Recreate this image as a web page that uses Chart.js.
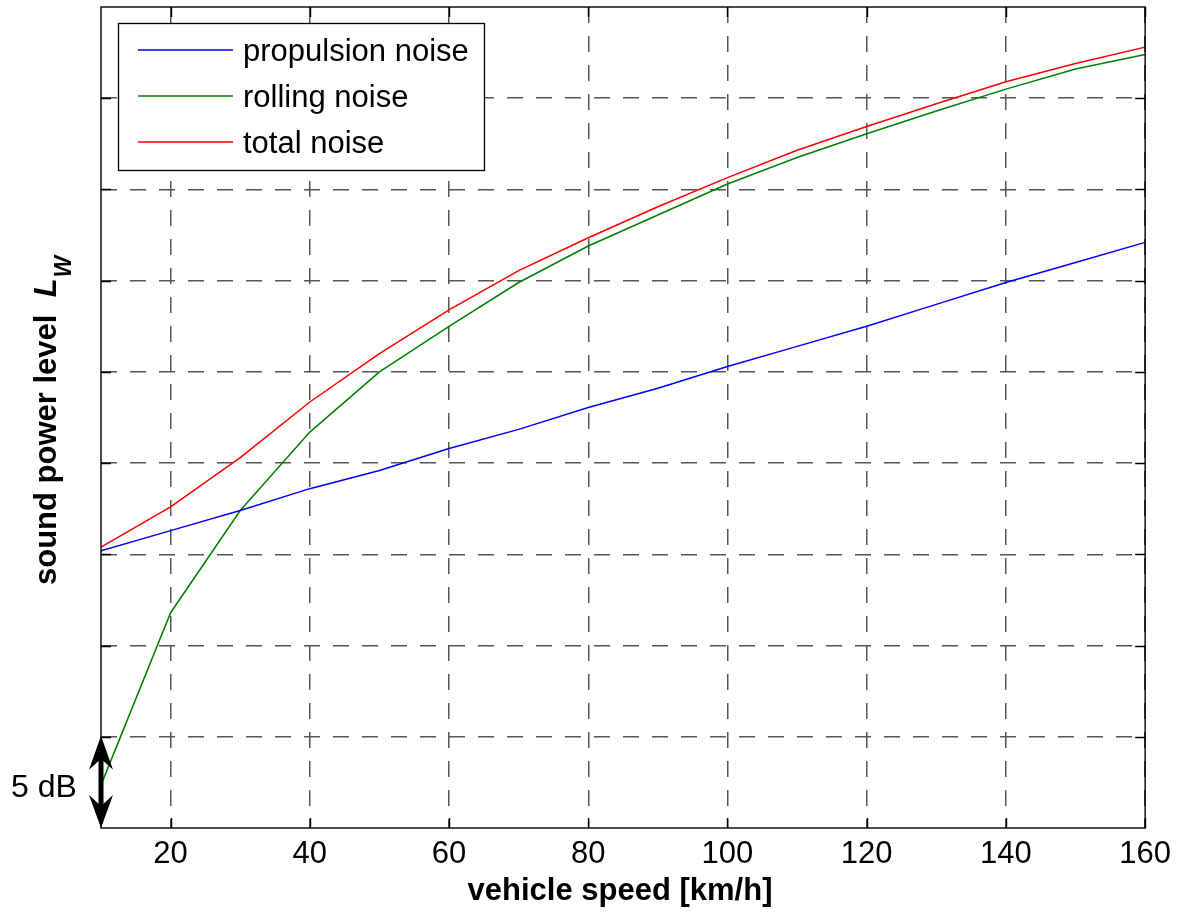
<!DOCTYPE html>
<html><head><meta charset="utf-8">
<script src="https://cdn.jsdelivr.net/npm/chart.js@4.4.0/dist/chart.umd.min.js"></script>
<style>html,body{margin:0;padding:0;background:#fff;}#wrap{width:1179px;height:913px;}</style>
</head><body><div id="wrap"><canvas id="c" width="1179" height="913"></canvas></div>
<script>
// ---- data ----
const speeds     = [10, 20, 30, 40, 50, 60, 70, 80, 90, 100, 110, 120, 130, 140, 150, 160];
const propulsion = [15.2, 16.3, 17.4, 18.6, 19.6, 20.8, 21.85, 23.05, 24.1, 25.3, 26.4, 27.5, 28.7, 29.9, 31.0, 32.1];
const rolling    = [2.35, 11.8, 17.4, 21.7, 25.0, 27.5, 29.9, 31.9, 33.6, 35.3, 36.75, 38.05, 39.3, 40.5, 41.6, 42.4];
const total      = [15.4, 17.6, 20.3, 23.35, 26.0, 28.4, 30.55, 32.35, 34.05, 35.65, 37.15, 38.45, 39.7, 40.9, 41.9, 42.8];
const xTicks = [20, 40, 60, 80, 100, 120, 140, 160];
const yGrid  = [5, 10, 15, 20, 25, 30, 35, 40];
const seriesNames  = ['propulsion noise', 'rolling noise', 'total noise'];
const seriesColors = ['#0000ff', '#008000', '#ff0000'];
const xTitle = 'vehicle speed [km/h]';
const yTitleMain = 'sound power level';
const yTitleSym = 'L';
const yTitleSub = 'W';
const scaleText = '5 dB';
const scaleStep = 5;

const FF = '"Liberation Sans", Arial, Helvetica, sans-serif';
const toXY = arr => arr.map((v, i) => ({x: speeds[i], y: v}));
const seriesData = [propulsion, rolling, total];

const overlay = {
  id: 'overlay',
  afterDraw(chart) {
    const ctx = chart.ctx, a = chart.chartArea;
    const xs = chart.scales.x, ys = chart.scales.y;
    ctx.save();
    // box
    ctx.strokeStyle = '#000'; ctx.lineWidth = 1.4; ctx.setLineDash([]);
    ctx.strokeRect(a.left, a.top, a.right - a.left, a.bottom - a.top);
    // inward ticks
    ctx.beginPath();
    xTicks.forEach(v => {
      const px = Math.round(xs.getPixelForValue(v)) + 0.5;
      ctx.moveTo(px, a.bottom); ctx.lineTo(px, a.bottom - 10);
      ctx.moveTo(px, a.top); ctx.lineTo(px, a.top + 10);
    });
    yGrid.forEach(v => {
      const py = Math.round(ys.getPixelForValue(v)) + 0.5;
      ctx.moveTo(a.left, py); ctx.lineTo(a.left + 10, py);
      ctx.moveTo(a.right, py); ctx.lineTo(a.right - 10, py);
    });
    ctx.stroke();
    // legend
    ctx.fillStyle = '#fff';
    ctx.fillRect(118, 23, 366, 147);
    ctx.strokeStyle = '#000'; ctx.lineWidth = 1.3;
    ctx.strokeRect(118.5, 23.5, 366, 147);
    ctx.font = '31px ' + FF; ctx.textBaseline = 'middle'; ctx.textAlign = 'left';
    seriesNames.forEach((n, i) => {
      const y = 50 + i * 46;
      ctx.strokeStyle = seriesColors[i]; ctx.lineWidth = 1.5;
      ctx.beginPath(); ctx.moveTo(138, y); ctx.lineTo(233, y); ctx.stroke();
      ctx.fillStyle = '#000'; ctx.fillText(n, 243, y + 2);
    });
    // 5 dB arrow
    const x0 = a.left, yT = ys.getPixelForValue(scaleStep), yB = ys.getPixelForValue(0);
    ctx.strokeStyle = '#000'; ctx.fillStyle = '#000'; ctx.lineWidth = 5;
    ctx.beginPath(); ctx.moveTo(x0, yT + 15); ctx.lineTo(x0, yB - 15); ctx.stroke();
    ctx.beginPath();
    ctx.moveTo(x0, yT - 1); ctx.lineTo(x0 - 12, yT + 33); ctx.lineTo(x0, yT + 22); ctx.lineTo(x0 + 12, yT + 33); ctx.closePath(); ctx.fill();
    ctx.beginPath();
    ctx.moveTo(x0, yB); ctx.lineTo(x0 - 12, yB - 33); ctx.lineTo(x0, yB - 22); ctx.lineTo(x0 + 12, yB - 33); ctx.closePath(); ctx.fill();
    ctx.font = '32px ' + FF; ctx.textAlign = 'left'; ctx.textBaseline = 'alphabetic';
    ctx.fillText(scaleText, 11, 797);
    // x title
    ctx.font = 'bold 31px ' + FF; ctx.textAlign = 'center'; ctx.textBaseline = 'alphabetic';
    ctx.fillText(xTitle, 620, 900);
    // y title
    ctx.translate(56, 585); ctx.rotate(-Math.PI / 2);
    ctx.textAlign = 'left';
    ctx.font = 'bold 31px ' + FF;
    ctx.fillText(yTitleMain, 0, 0);
    let w = ctx.measureText(yTitleMain + '  ').width;
    ctx.font = 'italic bold 31px ' + FF;
    ctx.fillText(yTitleSym, w, 0);
    w += ctx.measureText(yTitleSym).width + 1;
    ctx.font = 'italic bold 23px ' + FF;
    ctx.fillText(yTitleSub, w, 15);
    ctx.restore();
  }
};

new Chart(document.getElementById('c'), {
  type: 'line',
  data: {
    datasets: seriesData.map((d, i) => ({
      label: seriesNames[i], data: toXY(d), borderColor: seriesColors[i], backgroundColor: seriesColors[i],
      borderWidth: 1.5, pointRadius: 0, tension: 0, fill: false
    }))
  },
  options: {
    responsive: false, animation: false, devicePixelRatio: 1,
    layout: {padding: {top: 7, right: 33, left: 0, bottom: 0}},
    plugins: {legend: {display: false}, tooltip: {enabled: false}},
    scales: {
      x: {
        type: 'linear', min: 10, max: 160,
        afterBuildTicks: s => { s.ticks = xTicks.map(v => ({value: v})); },
        afterFit: s => { s.height = 85; },
        ticks: {color: '#000', font: {family: FF, size: 31}, padding: 8, maxRotation: 0, autoSkip: false},
        grid: {color: '#555', lineWidth: 1.5, drawTicks: false},
        border: {display: false, dash: [16, 13]}
      },
      y: {
        type: 'linear', min: 0, max: 45,
        afterBuildTicks: s => { s.ticks = yGrid.map(v => ({value: v})); },
        afterFit: s => { s.width = 101; },
        ticks: {display: false},
        grid: {color: '#555', lineWidth: 1.5, drawTicks: false},
        border: {display: false, dash: [16, 13]}
      }
    }
  },
  plugins: [overlay]
});
</script></body></html>
